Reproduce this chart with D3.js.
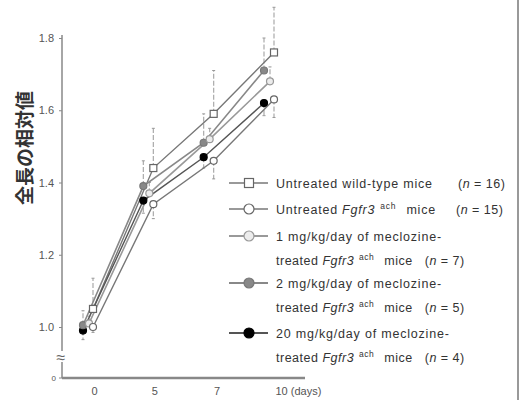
<!DOCTYPE html>
<html>
<head>
<meta charset="utf-8">
<script src="https://cdn.jsdelivr.net/npm/d3@7"></script>
<style>
  body { margin: 0; background: #fff; }
  text { font-family: "Liberation Sans", Arial, sans-serif; }
</style>
</head>
<body>
<div id="my_dataviz"></div>
<script>
// data
var days = ["0", "5", "7", "10"];
var yTicks = [1.0, 1.2, 1.4, 1.6, 1.8];

var wildType   = [1.05, 1.44, 1.59, 1.76];
var wildTypeEr = [1.135, 1.55, 1.71, 1.885];
var untreated   = [1.00, 1.34, 1.46, 1.63];
var untreatedEr = [0.985, 1.30, 1.41, 1.58];
var mg1   = [1.01, 1.37, 1.52, 1.68];
var mg1Er = [1.03, 1.40, 1.55, 1.72];
var mg2   = [1.005, 1.39, 1.51, 1.71];
var mg2Er = [1.045, 1.46, 1.59, 1.80];
var mg20   = [0.99, 1.35, 1.47, 1.62];
var mg20Er = [0.965, 1.315, 1.44, 1.585];

var series = [
  {vals: wildType, err: wildTypeEr, shape: "square", fill: "#fff", stroke: "#666", line: "#777", lw: 1.4, off: 0, n: 16},
  {vals: untreated, err: untreatedEr, shape: "circle", fill: "#fff", stroke: "#666", line: "#777", lw: 1.4, off: 0, n: 15},
  {vals: mg1, err: mg1Er, shape: "circle", fill: "#ececec", stroke: "#999", line: "#999", lw: 1.6, off: -4, n: 7},
  {vals: mg2, err: mg2Er, shape: "circle", fill: "#888", stroke: "#777", line: "#888", lw: 1.6, off: -10, n: 5},
  {vals: mg20, err: mg20Er, shape: "circle", fill: "#000", stroke: "#000", line: "#555", lw: 1.4, off: -10, n: 4}
];

var width = 522, height = 400;
var svg = d3.select("#my_dataviz")
  .append("svg")
    .attr("width", width)
    .attr("height", height);

// scales
var x = d3.scalePoint().domain(days).range([93, 274]);
var y = d3.scaleLinear().domain([1.0, 1.8]).range([327, 38]);
var baseY = 378, axisX = 62;

// right border
svg.append("line")
  .attr("x1", 518).attr("x2", 518).attr("y1", 0).attr("y2", height)
  .attr("stroke", "#999").attr("stroke-width", 2);

// Y axis
svg.append("line")
  .attr("x1", axisX).attr("x2", axisX).attr("y1", y(1.8) - 3).attr("y2", baseY)
  .attr("stroke", "#888").attr("stroke-width", 1.5);
var yAxis = svg.append("g")
  .attr("transform", "translate(" + axisX + ",0)")
  .call(d3.axisLeft(y).tickValues(yTicks).tickFormat(d3.format(".1f")).tickSize(3).tickPadding(5));
yAxis.select(".domain").remove();
yAxis.selectAll("line").attr("stroke", "#888");
yAxis.selectAll("text").attr("fill", "#555").style("font-size", "11px").style("font-family", "Liberation Sans, Arial");

// zero tick + break mark
svg.append("line")
  .attr("x1", axisX - 3).attr("x2", axisX).attr("y1", baseY).attr("y2", baseY)
  .attr("stroke", "#888");
svg.append("text")
  .attr("x", axisX - 6).attr("y", baseY + 3)
  .attr("text-anchor", "end").attr("fill", "#555").style("font-size", "8px")
  .text("0");
svg.append("rect")
  .attr("x", axisX - 9).attr("y", 351).attr("width", 15).attr("height", 11)
  .attr("fill", "#fff");
svg.append("text")
  .attr("x", axisX - 1).attr("y", 363)
  .attr("text-anchor", "middle").attr("fill", "#666").style("font-size", "16px")
  .text("≈");

// X axis
svg.append("line")
  .attr("x1", axisX).attr("x2", 305).attr("y1", baseY).attr("y2", baseY)
  .attr("stroke", "#888").attr("stroke-width", 2.5);
var xAxis = svg.append("g")
  .attr("transform", "translate(0," + baseY + ")")
  .call(d3.axisBottom(x).tickSize(0).tickPadding(9)
    .tickFormat(function(d) { return d == "10" ? "10 (days)" : d; }));
xAxis.select(".domain").remove();
xAxis.selectAll("text")
  .attr("fill", "#555").style("font-size", "11px").style("font-family", "Liberation Sans, Arial")
  .attr("dx", function(d) { return d == "10" ? 1 : (d == "7" ? 3 : 1); })
  .attr("text-anchor", function(d) { return d == "10" ? "start" : "middle"; });

// Y label
svg.append("text")
  .attr("transform", "translate(32,148) rotate(-90)")
  .attr("text-anchor", "middle")
  .style("font-family", "'Noto Sans CJK JP', sans-serif")
  .style("font-size", "19px").style("font-weight", "bold")
  .attr("fill", "#333")
  .text("全長の相対値");

// error bars
series.forEach(function(s) {
  var g = svg.append("g");
  s.vals.forEach(function(v, i) {
    var px = x(days[i]) + s.off;
    g.append("line")
      .attr("x1", px).attr("x2", px).attr("y1", y(v)).attr("y2", y(s.err[i]))
      .attr("stroke", "#aaa").attr("stroke-width", 1.2)
      .attr("stroke-dasharray", "5,2");
    g.append("line")
      .attr("x1", px - 1.5).attr("x2", px + 1.5).attr("y1", y(s.err[i])).attr("y2", y(s.err[i]))
      .attr("stroke", "#999");
  });
});

// lines
var line = d3.line()
  .x(function(d) { return d.x; })
  .y(function(d) { return y(d.v); });
series.forEach(function(s) {
  var pts = s.vals.map(function(v, i) { return {x: x(days[i]) + s.off, v: v}; });
  svg.append("path")
    .datum(pts)
    .attr("d", line)
    .attr("fill", "none")
    .attr("stroke", s.line)
    .attr("stroke-width", s.lw);
});

// markers
function marker(g, s, cx, cy, size) {
  if (s.shape == "square") {
    g.append("rect")
      .attr("x", cx - size).attr("y", cy - size).attr("width", size * 2).attr("height", size * 2)
      .attr("fill", s.fill).attr("stroke", s.stroke).attr("stroke-width", 1.2);
  } else {
    g.append("circle")
      .attr("cx", cx).attr("cy", cy).attr("r", size)
      .attr("fill", s.fill).attr("stroke", s.stroke).attr("stroke-width", 1.2);
  }
}
series.slice().reverse().forEach(function(s) {
  var g = svg.append("g");
  s.vals.forEach(function(v, i) {
    marker(g, s, x(days[i]) + s.off, y(v), 3.5);
  });
});

// legend
var legY = [183, 209, 236, 283, 333];
var first = ["Untreated wild-type mice", "Untreated", "1 mg/kg/day of meclozine-", "2 mg/kg/day of meclozine-", "20 mg/kg/day of meclozine-"];
var leg = svg.append("g").style("font-size", "12.5px").attr("fill", "#333");

function nLabel(tt, n) {
  tt.append("tspan").text("(");
  tt.append("tspan").style("font-style", "italic").text("n");
  tt.append("tspan").text(" = " + n + ")");
}

series.forEach(function(s, i) {
  var ly = legY[i];
  leg.append("line")
    .attr("x1", 229).attr("x2", 268).attr("y1", ly).attr("y2", ly)
    .attr("stroke", s.line).attr("stroke-width", i >= 2 ? 2.2 : 1.4);
  marker(leg, s, 249, ly, s.shape == "square" ? 4.5 : 5);

  var t = leg.append("text").attr("x", 276).attr("y", ly + 4.5).style("letter-spacing", "0.8px");
  t.append("tspan").text(first[i]);
  if (i == 0) {
    leg.append("text").attr("x", 458).attr("y", ly + 4.5).style("letter-spacing", "0.5px")
      .call(nLabel, s.n);
    return;
  }
  var row = i == 1 ? ly : ly + 24;
  var t2 = i == 1 ? t : leg.append("text").attr("x", 276).attr("y", row + 4.5).style("letter-spacing", "0.5px");
  if (i != 1) t2.append("tspan").text("treated");
  t2.append("tspan").attr("dx", 4).style("font-style", "italic").text("Fgfr3");
  t2.append("tspan").attr("dx", 5).attr("dy", -5).style("font-size", "8.5px").text("ach");
  t2.append("tspan").attr("dx", 10).attr("dy", 5).text("mice");
  if (i == 1) {
    leg.append("text").attr("x", 456).attr("y", row + 4.5).style("letter-spacing", "0.5px")
      .call(nLabel, s.n);
  } else {
    t2.append("tspan").attr("dx", 12).call(nLabel, s.n);
  }
});
</script>
</body>
</html>
